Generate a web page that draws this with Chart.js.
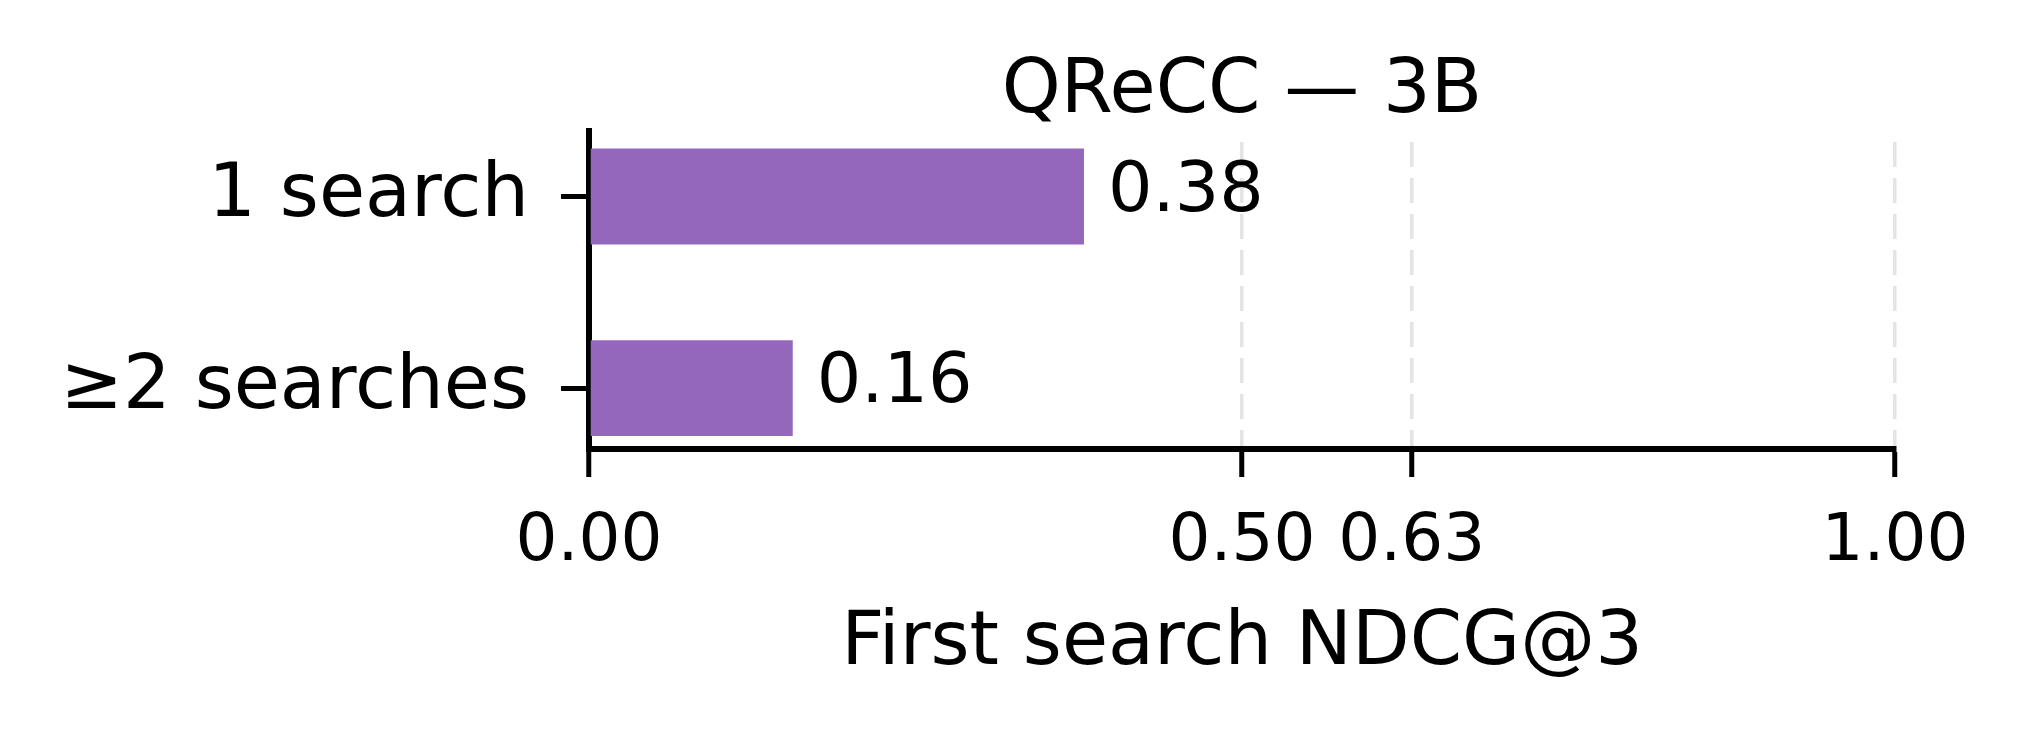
<!DOCTYPE html>
<html>
<head>
<meta charset="utf-8">
<script src="https://cdn.jsdelivr.net/npm/chart.js@4/dist/chart.umd.min.js"></script>
<style>
  html, body { margin: 0; padding: 0; background: #ffffff; }
  #wrap { width: 2030px; height: 740px; }
</style>
</head>
<body>
<div id="wrap"><canvas id="c" width="2030" height="740"></canvas></div>
<script>
const chartTitle = 'QReCC — 3B';
const xAxisTitle = 'First search NDCG@3';
const categories = ['1 search', '≥2 searches'];
const values = [0.379, 0.156];
const xTickValues = [0, 0.5, 0.63, 1.0];
const barColor = '#9467bd';

const FONT = '"DejaVu Sans", "Liberation Sans", sans-serif';

const valueLabels = {
  id: 'valueLabels',
  afterDatasetsDraw(chart) {
    const ctx = chart.ctx;
    const meta = chart.getDatasetMeta(0);
    ctx.save();
    ctx.font = '70px ' + FONT;
    ctx.fillStyle = '#000000';
    ctx.textAlign = 'left';
    ctx.textBaseline = 'middle';
    meta.data.forEach((bar, i) => {
      ctx.fillText(values[i].toFixed(2), bar.x + 24, bar.y - 4);
    });
    ctx.restore();
  }
};

new Chart(document.getElementById('c'), {
  type: 'bar',
  data: {
    datasets: [{
      data: values.map((v, i) => ({ x: v, y: i })),
      backgroundColor: barColor,
      borderWidth: 0,
      categoryPercentage: 1.0,
      barPercentage: 0.5
    }]
  },
  options: {
    indexAxis: 'y',
    responsive: false,
    animation: false,
    devicePixelRatio: 1,
    layout: { padding: { left: 0, right: 135, top: 0, bottom: 0 } },
    plugins: {
      legend: { display: false },
      tooltip: { enabled: false },
      title: {
        display: true,
        text: chartTitle,
        fullSize: false,
        color: '#000000',
        font: { family: FONT, size: 75, weight: 'normal', lineHeight: 0.9 },
        padding: { top: 59, bottom: 4.5 }
      }
    },
    scales: {
      x: {
        type: 'linear',
        position: 'bottom',
        min: 0,
        max: 1,
        offset: false,
        afterBuildTicks: (scale) => { scale.ticks = xTickValues.map(v => ({ value: v })); },
        afterFit: (scale) => { scale.height = 291; },
        ticks: {
          autoSkip: false,
          maxRotation: 0,
          color: '#000000',
          padding: 26,
          font: { family: FONT, size: 66 },
          callback: (v) => Number(v).toFixed(2)
        },
        grid: {
          offset: false,
          color: (c) => (c.tick && c.tick.value === 0) ? 'rgba(0,0,0,0)' : '#e4e4e4',
          lineWidth: 3.5,
          drawTicks: true,
          tickLength: 28,
          tickColor: '#000000',
          tickWidth: 5
        },
        border: { display: true, color: '#000000', width: 6, dash: [25, 11], dashOffset: 25 },
        title: {
          display: true,
          text: xAxisTitle,
          color: '#000000',
          font: { family: FONT, size: 75 },
          padding: { top: 0, bottom: 50 }
        }
      },
      y: {
        type: 'linear',
        position: 'left',
        reverse: true,
        offset: false,
        min: -0.342,
        max: 1.318,
        afterBuildTicks: (scale) => { scale.ticks = categories.map((c, i) => ({ value: i })); },
        afterFit: (scale) => { scale.width = 589; },
        ticks: {
          autoSkip: false,
          color: '#000000',
          padding: 32,
          font: { family: FONT, size: 75 },
          callback: (v) => categories[v] !== undefined ? categories[v] : ''
        },
        grid: {
          offset: false,
          drawOnChartArea: false,
          drawTicks: true,
          tickLength: 28,
          tickColor: '#000000',
          tickWidth: 5
        },
        border: { display: true, color: '#000000', width: 6 }
      }
    }
  },
  plugins: [valueLabels]
});
</script>
</body>
</html>
